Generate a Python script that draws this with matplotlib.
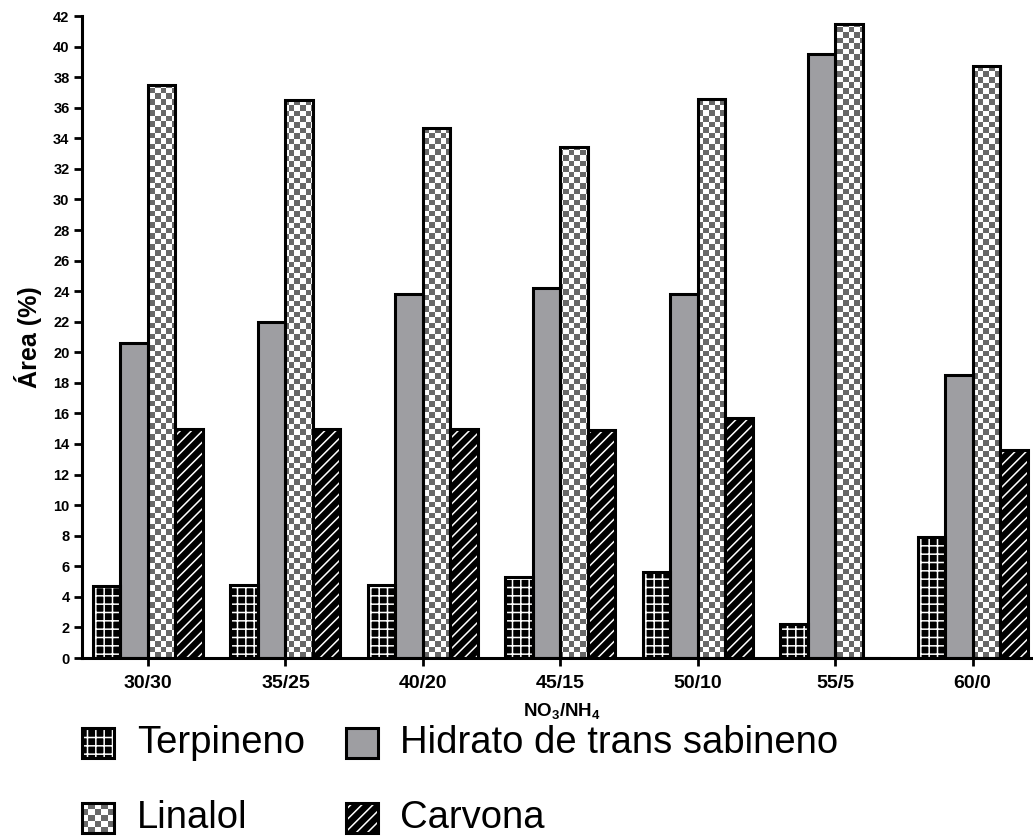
import numpy as np
import matplotlib
matplotlib.use("Agg")
import matplotlib.pyplot as plt
from matplotlib.image import AxesImage
from matplotlib.colors import ListedColormap

# Composition of the essential oil for each NO3/NH4 ratio
categories = ["30/30", "35/25", "40/20", "45/15", "50/10", "55/5", "60/0"]
terpineno = [4.7, 4.8, 4.8, 5.3, 5.6, 2.2, 7.9]
hidrato = [20.6, 22.0, 23.8, 24.2, 23.8, 39.5, 18.5]
linalol = [37.5, 36.5, 34.7, 33.4, 36.6, 41.5, 38.7]
carvona = [15.0, 15.0, 15.0, 14.9, 15.7, 0.0, 13.6]
series_names = ["Terpineno", "Hidrato de trans sabineno", "Linalol", "Carvona"]
yticks = list(range(0, 43, 2))

plt.rcParams["font.family"] = ["Liberation Sans", "DejaVu Sans"]
plt.rcParams["mathtext.fontset"] = "custom"
plt.rcParams["mathtext.rm"] = "Liberation Sans"
plt.rcParams["mathtext.bf"] = "Liberation Sans:bold"
plt.rcParams["hatch.linewidth"] = 1.1

W, H = 1033, 839
fig = plt.figure(figsize=(W / 100, H / 100), dpi=100)
ax = fig.add_axes([82 / W, 1 - 658 / H, (W - 82) / W, (658 - 16) / H])

EDGE_LW = 2.2
GRAY = "#9e9ea2"
CHECK_DARK = "#686868"


def add_checker(axis, patch, cell_px):
    """Fill a patch with a grey/white checkerboard aligned to the axes pixels."""
    bb = axis.bbox
    nx = max(1, int(round(bb.width / cell_px)))
    ny = max(1, int(round(bb.height / cell_px)))
    arr = np.add.outer(np.arange(ny), np.arange(nx)) % 2
    im = AxesImage(axis, cmap=ListedColormap(["white", CHECK_DARK]),
                   interpolation="nearest", origin="lower",
                   extent=(0, 1, 0, 1), transform=axis.transAxes, zorder=2)
    im.set_data(arr)
    im.set_clim(0, 1)
    axis.add_image(im)
    im.set_clip_path(patch)


def draw_series(axis, x, heights, width, style, cell_px=5.6, clip=True):
    if style == "grid":
        axis.bar(x, heights, width, color="black", edgecolor="white",
                 hatch="++", linewidth=0, zorder=2, clip_on=clip)
    elif style == "diag":
        axis.bar(x, heights, width, color="black", edgecolor="white",
                 hatch="///", linewidth=0, zorder=2, clip_on=clip)
    elif style == "gray":
        axis.bar(x, heights, width, color=GRAY, linewidth=0, zorder=2,
                 clip_on=clip)
    elif style == "check":
        bars = axis.bar(x, heights, width, color="white", linewidth=0,
                        zorder=1, clip_on=clip)
        for p in bars.patches:
            add_checker(axis, p, cell_px)
    axis.bar(x, heights, width, fill=False, edgecolor="black",
             linewidth=EDGE_LW, zorder=3, clip_on=clip)


styles = ["grid", "gray", "check", "diag"]
values = [terpineno, hidrato, linalol, carvona]
xpos = np.arange(len(categories))
bw = 0.2
offsets = [-1.5 * bw, -0.5 * bw, 0.5 * bw, 1.5 * bw]
for vals, st, off in zip(values, styles, offsets):
    draw_series(ax, xpos + off, vals, bw, st)

ax.set_xlim(-0.48, 6.44)
ax.set_ylim(0, 42)
ax.set_yticks(yticks)
ax.set_xticks(xpos)
ax.set_xticklabels(categories, fontsize=14, fontweight="bold")
ax.set_yticklabels([str(t) for t in yticks], fontsize=10.5, fontweight="bold")
for side in ["top", "right"]:
    ax.spines[side].set_visible(False)
for side in ["left", "bottom"]:
    ax.spines[side].set_linewidth(EDGE_LW)
    ax.spines[side].set_zorder(4)
ax.tick_params(axis="both", direction="out", length=6, width=2, color="black")
ax.tick_params(axis="x", pad=6)
ax.tick_params(axis="y", pad=3)

fig.text(28 / W, 1 - 337 / H, "Área (%)", rotation=90, ha="center", va="center",
         fontsize=18, fontweight="bold")
fig.text(562 / W, 1 - 712 / H, r"NO$_\mathbf{3}$/NH$_\mathbf{4}$",
         ha="center", va="center", fontsize=13.5, fontweight="bold")

# Legend built from small swatch axes and labels
legend_items = [
    (82, 728, 137, styles[0], series_names[0]),
    (346, 728, 400, styles[1], series_names[1]),
    (82, 803, 137, styles[2], series_names[2]),
    (346, 803, 400, styles[3], series_names[3]),
]
for hx, hy, tx, st, name in legend_items:
    sw = fig.add_axes([hx / W, 1 - (hy + 30) / H, 32 / W, 30 / H])
    sw.set_xlim(0, 1)
    sw.set_ylim(0, 1)
    sw.axis("off")
    draw_series(sw, [0.5], [1], 1.0, st, cell_px=6.5, clip=False)
    fig.text(tx / W, 1 - (hy + 15) / H, name, ha="left", va="center",
             fontsize=27.5)

fig.savefig("out.png", dpi=100)
